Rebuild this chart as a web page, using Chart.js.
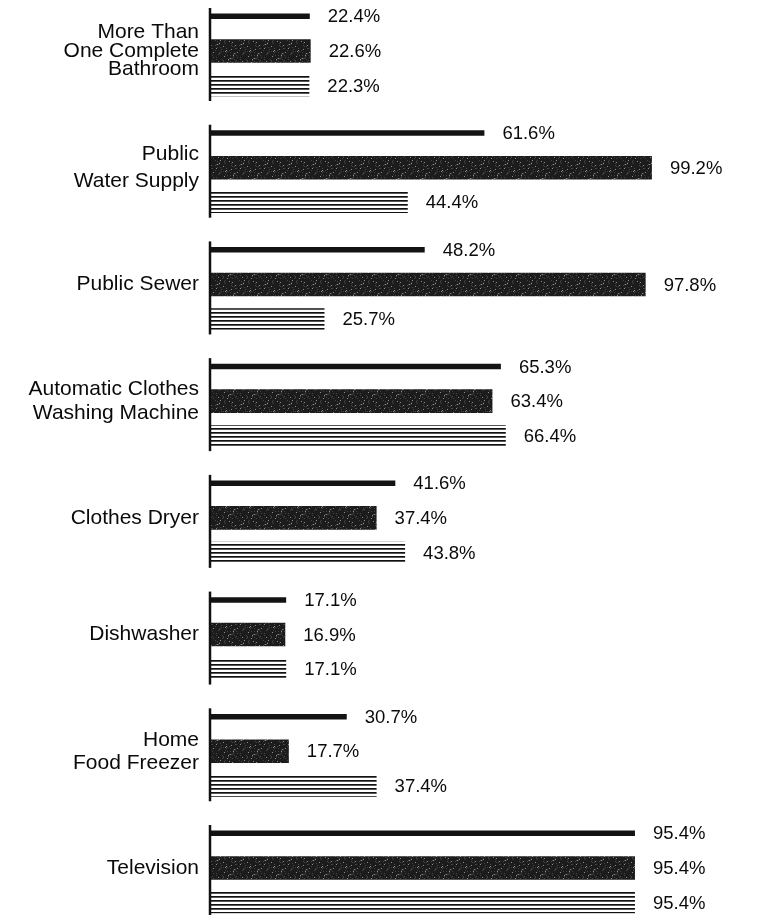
<!DOCTYPE html>
<html><head><meta charset="utf-8">
<script src="https://cdn.jsdelivr.net/npm/chart.js@4"></script>
<style>html,body{margin:0;padding:0;background:#fff}#wrap{width:765px;height:915px;position:relative}canvas{display:block}</style>
</head><body><div id="wrap"><canvas id="c" width="765" height="915"></canvas></div>
<script>
// ---- data ----
const categories = [
  ["More Than", "One Complete", "Bathroom"],
  ["Public", "Water Supply"],
  "Public Sewer",
  ["Automatic Clothes", "Washing Machine"],
  "Clothes Dryer",
  "Dishwasher",
  ["Home", "Food Freezer"],
  "Television"
];
const seriesA = [22.4, 61.6, 48.2, 65.3, 41.6, 17.1, 30.7, 95.4]; // thin black bar
const seriesB = [22.6, 99.2, 97.8, 63.4, 37.4, 16.9, 17.7, 95.4]; // dark textured bar
const seriesC = [22.3, 44.4, 25.7, 66.4, 43.8, 17.1, 37.4, 95.4]; // striped bar

// ---- styles ----
const FONT = '"Liberation Sans", Arial, sans-serif';
const labelLineHeights = [0.88, 1.3, 1.2, 1.15, 1.2, 1.2, 1.1, 1.2];

function darkPattern() {
  const c = document.createElement('canvas'); c.width = 24; c.height = 24;
  const g = c.getContext('2d');
  g.fillStyle = '#1c1c1c'; g.fillRect(0, 0, 24, 24);
  for (let y = 0; y < 24; y++) for (let x = 0; x < 24; x++) {
    const h = (x * 37 + y * 91 + x * y * 13) % 29;
    if (h === 0) { g.fillStyle = '#8c8c8c'; g.fillRect(x, y, 1, 1); }
    else if (h === 7 || h === 15 || h === 22) { g.fillStyle = '#444'; g.fillRect(x, y, 1, 1); }
  }
  return g.createPattern(c, 'repeat');
}
function stripePattern() {
  const c = document.createElement('canvas'); c.width = 8; c.height = 4;
  const g = c.getContext('2d');
  g.fillStyle = '#fff'; g.fillRect(0, 0, 8, 4);
  g.fillStyle = '#111'; g.fillRect(0, 0, 8, 1);
  g.fillStyle = '#555'; g.fillRect(0, 1, 8, 1);
  return g.createPattern(c, 'repeat');
}

const groupAxes = {
  id: 'groupAxes',
  afterDatasetsDraw(chart) {
    const { ctx, scales: { x, y } } = chart;
    const x0 = x.getPixelForValue(0);
    ctx.save();
    ctx.strokeStyle = '#111'; ctx.lineWidth = 2.5;
    categories.forEach((c, i) => {
      const yc = y.getPixelForValue(i);
      ctx.beginPath(); ctx.moveTo(x0, yc - 43); ctx.lineTo(x0, yc + 50); ctx.stroke();
    });
    ctx.restore();
  }
};
const valueLabels = {
  id: 'valueLabels',
  afterDatasetsDraw(chart) {
    const ctx = chart.ctx;
    ctx.save();
    ctx.font = '18.5px ' + FONT; ctx.fillStyle = '#0a0a0a';
    ctx.textBaseline = 'middle'; ctx.textAlign = 'left';
    chart.data.datasets.forEach((ds, di) => {
      chart.getDatasetMeta(di).data.forEach((bar, i) => {
        ctx.fillText(ds.data[i].toFixed(1) + '%', bar.x + 18, bar.y + 1);
      });
    });
    ctx.restore();
  }
};

new Chart(document.getElementById('c'), {
  type: 'bar',
  data: {
    labels: categories,
    datasets: [
      { label: 'A', data: seriesA, backgroundColor: '#131313', categoryPercentage: 0.89, barPercentage: 0.9, maxBarThickness: 5.5, clip: false },
      { label: 'B', data: seriesB, backgroundColor: darkPattern(), categoryPercentage: 0.89, barPercentage: 0.68, clip: false },
      { label: 'C', data: seriesC, backgroundColor: stripePattern(), categoryPercentage: 0.89, barPercentage: 0.62, clip: false }
    ]
  },
  options: {
    indexAxis: 'y',
    responsive: false,
    animation: false,
    devicePixelRatio: 1,
    layout: { padding: { top: 51, bottom: 47, left: 0, right: 16 } },
    plugins: { legend: { display: false }, tooltip: { enabled: false } },
    scales: {
      x: { display: false, min: 0, max: 121 },
      y: {
        offset: false,
        grid: { display: false, drawTicks: false },
        border: { display: false },
        afterFit: (s) => { s.width = 210; },
        ticks: {
          padding: 11,
          color: '#0a0a0a',
          font: (ctx) => ({ family: FONT, size: 21, lineHeight: labelLineHeights[ctx.index] || 1.2 })
        }
      }
    }
  },
  plugins: [groupAxes, valueLabels]
});
</script>
</body></html>
